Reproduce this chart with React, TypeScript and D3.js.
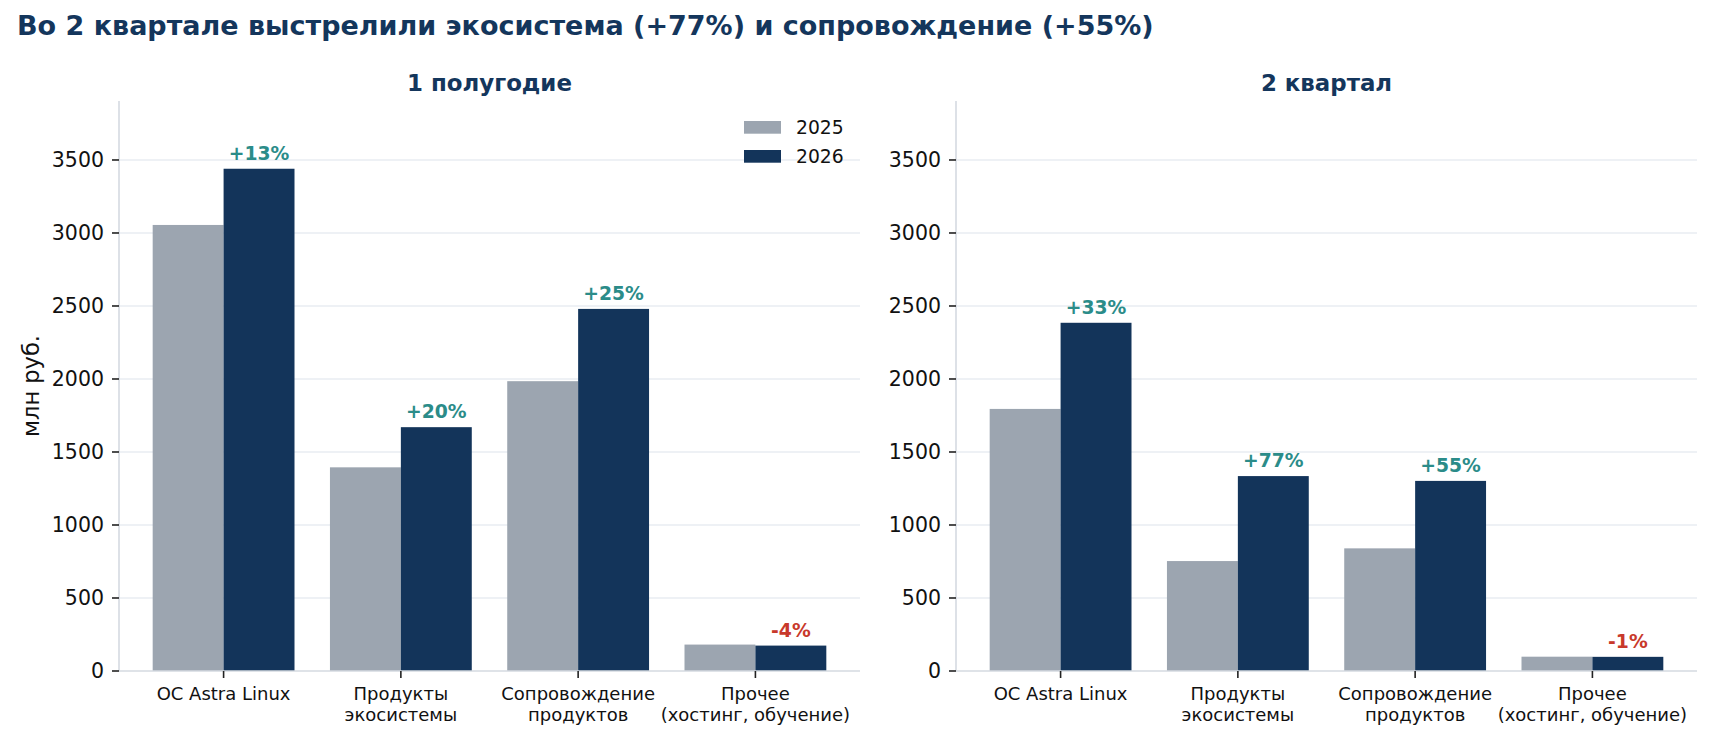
import * as d3 from "d3";

const WIDTH = 1725;
const HEIGHT = 750;
const FONT = "DejaVu Sans, sans-serif";

const categories = [
  ["ОС Astra Linux"],
  ["Продукты", "экосистемы"],
  ["Сопровождение", "продуктов"],
  ["Прочее", "(хостинг, обучение)"],
];
const seriesNames = ["2025", "2026"];

// 1 полугодие
const half2025 = [3055, 1395, 1985, 181];
const half2026 = [3440, 1670, 2480, 174];
const halfLabels = ["+13%", "+20%", "+25%", "-4%"];

// 2 квартал
const q2025 = [1795, 753, 840, 98];
const q2026 = [2385, 1335, 1302, 97];
const qLabels = ["+33%", "+77%", "+55%", "-1%"];

const yTicks = [0, 500, 1000, 1500, 2000, 2500, 3000, 3500];

const C_OLD = "#9ca5b0";
const C_NEW = "#13345a";
const C_UP = "#2b8c89";
const C_DOWN = "#c8392b";
const NAVY = "#14365c";

const TOP = 101;
const BOTTOM = 671;

type PanelProps = {
  left: number;
  right: number;
  title: string;
  a: number[];
  b: number[];
  labels: string[];
  legend?: boolean;
  ylabel?: boolean;
};

const Panel = ({ left, right, title, a, b, labels, legend, ylabel }: PanelProps) => {
  const x = d3.scaleLinear().domain([-0.59, 3.59]).range([left, right]);
  const y = d3.scaleLinear().domain([0, 3904]).range([BOTTOM, TOP]);
  const bw = 0.4;

  return (
    <g>
      {/* сетка */}
      {yTicks.slice(1).map((t) => (
        <line key={t} x1={left} x2={right} y1={y(t)} y2={y(t)} stroke="#e9edf2" strokeWidth={1.3} />
      ))}
      {/* столбики */}
      {a.map((v, i) => (
        <rect key={"a" + i} x={x(i - bw)} width={x(bw) - x(0)} y={y(v)} height={y(0) - y(v)} fill={C_OLD} />
      ))}
      {b.map((v, i) => (
        <rect key={"b" + i} x={x(i)} width={x(bw) - x(0)} y={y(v)} height={y(0) - y(v)} fill={C_NEW} />
      ))}
      {labels.map((l, i) => (
        <text
          key={"l" + i}
          x={x(i + bw / 2)}
          y={y(b[i]) - 9}
          textAnchor="middle"
          fontFamily={FONT}
          fontWeight="bold"
          fontSize={18.75}
          fill={l.startsWith("-") ? C_DOWN : C_UP}
        >
          {l}
        </text>
      ))}
      {/* оси */}
      <line x1={left} x2={left} y1={TOP} y2={BOTTOM} stroke="#d5dae1" strokeWidth={1.6} />
      <line x1={left} x2={right} y1={BOTTOM} y2={BOTTOM} stroke="#d5dae1" strokeWidth={1.6} />
      {yTicks.map((t) => (
        <g key={t}>
          <line x1={left - 7} x2={left} y1={y(t)} y2={y(t)} stroke="#222" strokeWidth={1.6} />
          <text x={left - 15} y={y(t)} dy="0.36em" textAnchor="end" fontFamily={FONT} fontSize={20.5} fill="#111">
            {t}
          </text>
        </g>
      ))}
      {categories.map((c, i) => (
        <g key={i}>
          <line x1={x(i)} x2={x(i)} y1={BOTTOM} y2={BOTTOM + 7} stroke="#222" strokeWidth={1.6} />
          {c.map((line, j) => (
            <text
              key={j}
              x={x(i)}
              y={BOTTOM + 28.5 + j * 21.5}
              textAnchor="middle"
              fontFamily={FONT}
              fontSize={18}
              fill="#111"
            >
              {line}
            </text>
          ))}
        </g>
      ))}
      <text
        x={(left + right) / 2}
        y={91}
        textAnchor="middle"
        fontFamily={FONT}
        fontWeight="bold"
        fontSize={22.9}
        fill={NAVY}
      >
        {title}
      </text>
      {ylabel && (
        <text
          transform={`translate(39,${(TOP + BOTTOM) / 2}) rotate(-90)`}
          textAnchor="middle"
          fontFamily={FONT}
          fontSize={22.5}
          fill="#111"
        >
          млн руб.
        </text>
      )}
      {legend &&
        seriesNames.map((s, i) => (
          <g key={s} transform={`translate(744,${121 + i * 29})`}>
            <rect width={37} height={12.7} fill={i === 0 ? C_OLD : C_NEW} />
            <text x={52} y={6.35} dy="0.36em" fontFamily={FONT} fontSize={18.75} fill="#111">
              {s}
            </text>
          </g>
        ))}
    </g>
  );
};

export default function App() {
  return (
    <svg
      width={WIDTH}
      height={HEIGHT}
      style={{ position: "absolute", left: 0, top: 0, background: "#fff" }}
    >
      <rect width={WIDTH} height={HEIGHT} fill="#fff" />
      <text x={17} y={35} fontFamily={FONT} fontWeight="bold" fontSize={27} fill={NAVY}>
        Во 2 квартале выстрелили экосистема (+77%) и сопровождение (+55%)
      </text>
      <Panel left={119} right={860} title="1 полугодие" a={half2025} b={half2026} labels={halfLabels} legend ylabel />
      <Panel left={956} right={1697} title="2 квартал" a={q2025} b={q2026} labels={qLabels} />
    </svg>
  );
}
